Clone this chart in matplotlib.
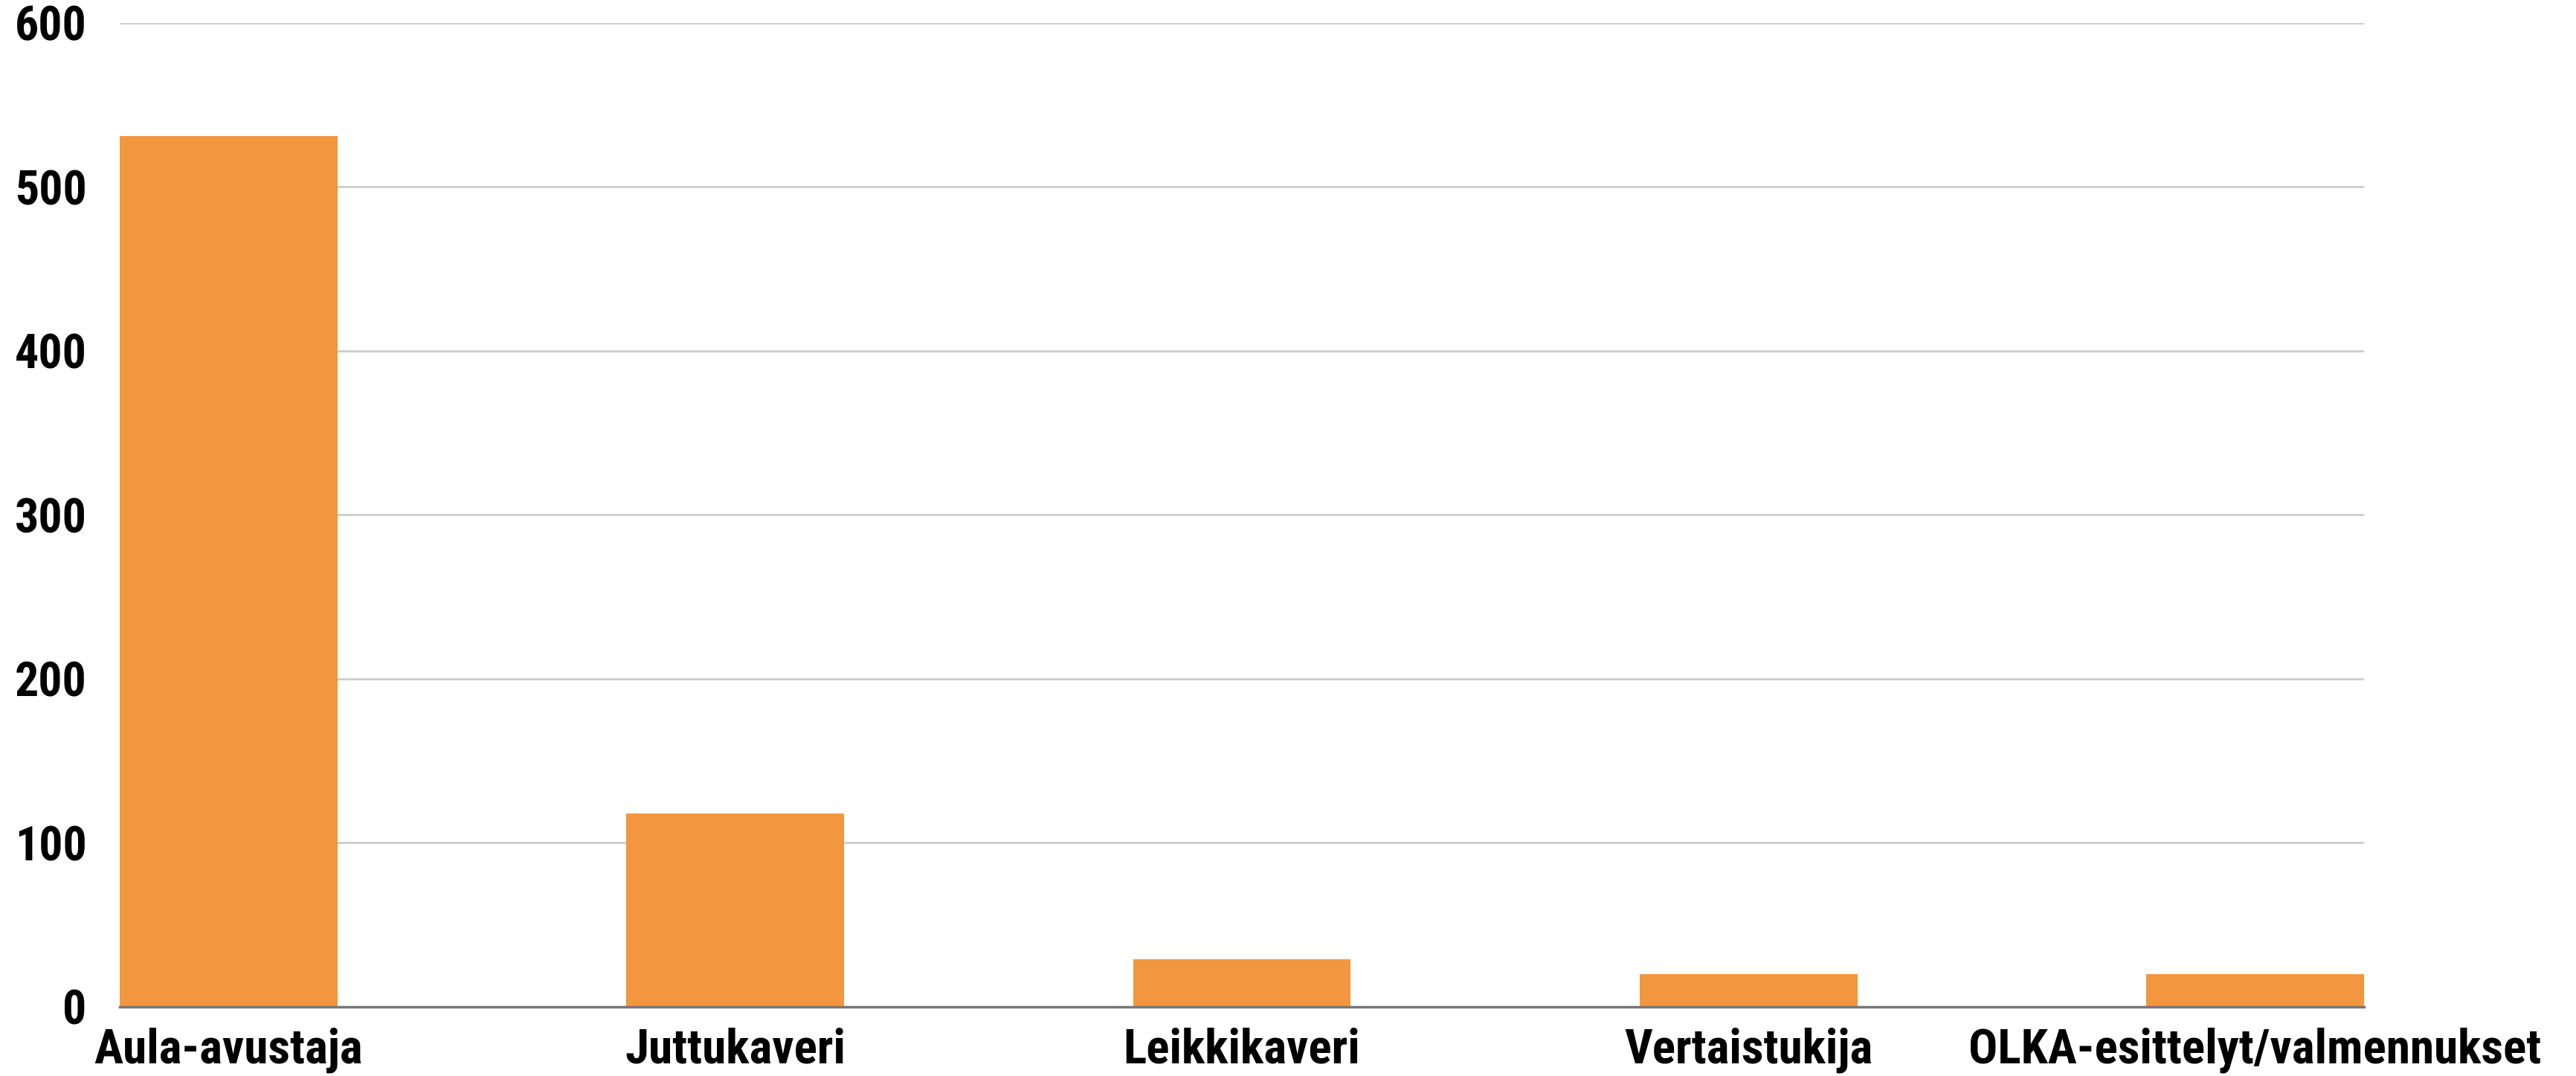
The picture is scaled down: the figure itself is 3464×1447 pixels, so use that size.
import matplotlib
matplotlib.use("Agg")
import matplotlib.pyplot as plt
from matplotlib import font_manager

# data
categories = ["Aula-avustaja", "Juttukaveri", "Leikkikaveri", "Vertaistukija",
              "OLKA-esittelyt/valmennukset"]
values = [531, 118, 29, 20, 20]
yticks = [0, 100, 200, 300, 400, 500, 600]

bar_color = "#F2963F"

# pick a narrow bold face if one is installed
names = {f.name for f in font_manager.fontManager.ttflist}
font, stretch = "DejaVu Sans", "condensed"
for cand in ["Roboto Condensed", "Liberation Sans Narrow", "Open Sans Condensed"]:
    if cand in names:
        font, stretch = cand, "normal"
        break
plt.rcParams["font.family"] = [font, "DejaVu Sans"]
plt.rcParams["font.stretch"] = stretch

fig = plt.figure(figsize=(34.64, 14.47), dpi=100)
ax = fig.add_axes([0.0465, 0.0643, 0.8712, 0.9143])

width = 0.43
x = range(len(categories))
ax.bar(x, values, width=width, color=bar_color, zorder=3)

ax.set_xlim(-width / 2, len(categories) - 1 + width / 2)
ax.set_ylim(0, 600)
ax.set_yticks(yticks)
ax.set_xticks(list(x))
ax.set_xticklabels(categories)

ax.grid(axis="y", color="#cccccc", linewidth=2, zorder=0)
for s in ["top", "right", "left"]:
    ax.spines[s].set_visible(False)
ax.spines["bottom"].set_color("#777777")
ax.spines["bottom"].set_linewidth(2.5)
ax.spines["bottom"].set_zorder(4)

ax.tick_params(axis="both", length=0)
ax.tick_params(axis="y", pad=32, labelsize=46)
ax.tick_params(axis="x", pad=20, labelsize=47)
for lbl in ax.get_xticklabels() + ax.get_yticklabels():
    lbl.set_fontweight("bold")
    lbl.set_fontstretch(stretch)

fig.savefig("out.png", dpi=100, facecolor="white")
